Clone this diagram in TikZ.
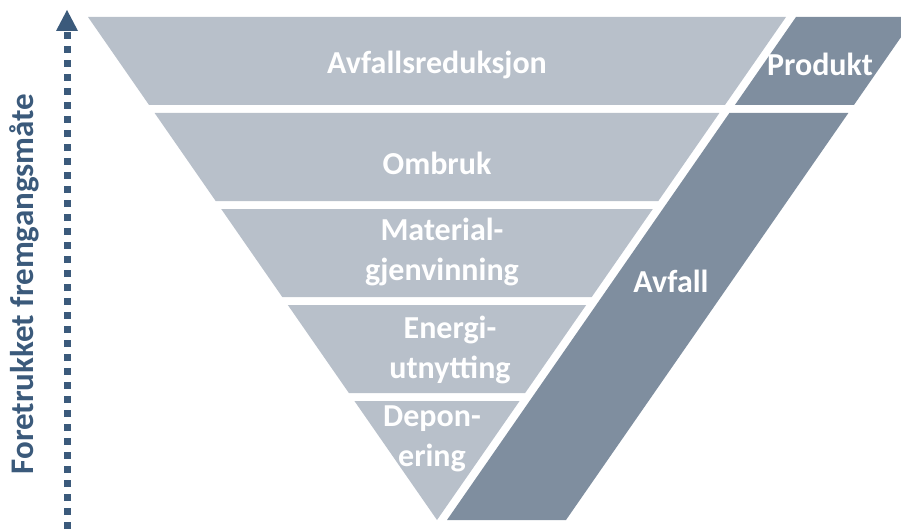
\documentclass[tikz,border=0pt]{standalone}
\usepackage{fontspec}
\setmainfont{Carlito}
\usetikzlibrary{arrows.meta}
\definecolor{lightband}{HTML}{B8C0CA}
\definecolor{darkband}{HTML}{7F8E9F}
\definecolor{arrowblue}{HTML}{3B5A7B}
\tikzset{
  lbl/.style={text=white, font=\bfseries\fontsize{32}{40}\selectfont, align=center, inner sep=0pt},
}
\begin{document}
\begin{tikzpicture}[x=1pt,y=-1pt]
\useasboundingbox (0,0) rectangle (901,532);
\clip (0,0) rectangle (901,532);
% light triangle bands: left line x = 88 + k(y-17), right line x = 786 - k(y-17)
\def\k{0.6938}
\foreach \ya/\yb in {17/105,113/201,209/297,305/393,401/520}{
  \fill[lightband] ({88+\k*(\ya-17)},\ya) -- ({786-\k*(\ya-17)},\ya)
     -- ({786-\k*(\yb-17)},\yb) -- ({88+\k*(\yb-17)},\yb) -- cycle;
}
% dark bands
\fill[darkband] ({447+\k*(520-17)},17) -- ({566+\k*(520-17)},17)
   -- ({566+\k*(520-105)},105) -- ({447+\k*(520-105)},105) -- cycle;
\fill[darkband] ({447+\k*(520-113)},113) -- ({566+\k*(520-113)},113)
   -- (566,520) -- (447,520) -- cycle;
% labels
\node[lbl] (red) at (437,65) {Avfallsreduksjon};
\node[lbl] (prod) at (820,64) {Produkt};
\node[lbl] (omb) at (437,163) {Ombruk};
\node[lbl] (mat) at (442,252) {Material-\\gjenvinning};
\node[lbl] (ene) at (450,350) {Energi-\\utnytting};
\node[lbl] (dep) at (432,439) {Depon-\\ering};
\node[lbl] (avf) at (671,281) {Avfall};
% arrow
\coordinate (abot) at (67,529);
\coordinate (atop) at (67,31);
\draw[arrowblue, line width=7pt, dash pattern=on 7pt off 7pt] (abot) -- (atop);
\fill[arrowblue] (56,31) -- (78,31) -- (67,10) -- cycle;
\node[text=arrowblue, font=\bfseries\fontsize{33}{36}\selectfont, rotate=90, inner sep=0pt, anchor=base] (side) at (33,284) {Foretrukket fremgangsmåte};
\end{tikzpicture}
\end{document}
